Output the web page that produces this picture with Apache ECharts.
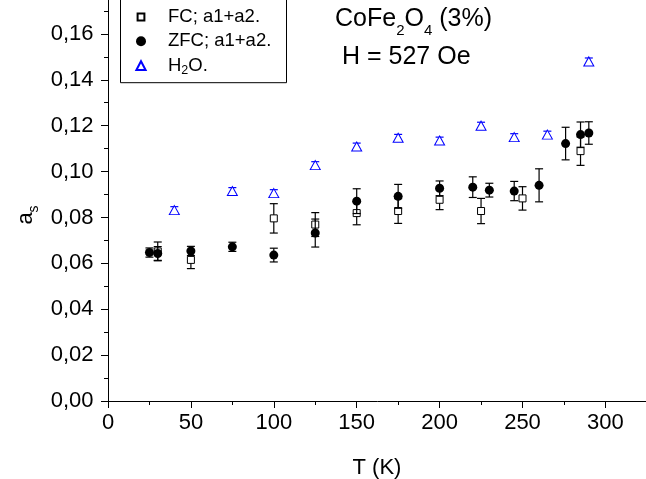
<!DOCTYPE html>
<html><head><meta charset="utf-8">
<script src="https://cdn.jsdelivr.net/npm/echarts@6/dist/echarts.min.js"></script>
<style>html,body{margin:0;padding:0;background:#fff}#c{width:646px;height:479px}</style>
</head><body><div id="c"></div>
<script>
// ---- data ----
const fcT   = [30, 50, 100, 125, 150, 175, 200, 225, 250, 285];
const fcA   = [0.0652, 0.0615, 0.0796, 0.0769, 0.0819, 0.0828, 0.0877, 0.0828, 0.0883, 0.1089];
const fcErr = [0.0041, 0.0038, 0.0064, 0.0052, 0.0051, 0.0054, 0.0043, 0.0055, 0.0051, 0.0062];

const zfcT   = [25, 30, 50, 75, 100, 125, 150, 175, 200, 220, 230, 245, 260, 276, 285, 290];
const zfcA   = [0.0647, 0.0643, 0.0654, 0.0672, 0.0636, 0.0732, 0.0871, 0.0892, 0.0927, 0.0932, 0.0919, 0.0915, 0.0940, 0.1122, 0.1161, 0.1168];
const zfcErr = [0.0020, 0.0030, 0.0020, 0.0020, 0.0030, 0.0061, 0.0054, 0.0052, 0.0032, 0.0045, 0.0030, 0.0042, 0.0072, 0.0071, 0.0055, 0.0049];

const h2oT   = [40, 75, 100, 125, 150, 175, 200, 225, 245, 265, 290];
const h2oA   = [0.0832, 0.0915, 0.0906, 0.1028, 0.1109, 0.1147, 0.1135, 0.1200, 0.1150, 0.1161, 0.1480];
const h2oErr = [0.0015, 0.0015, 0.0015, 0.0015, 0.0015, 0.0015, 0.0015, 0.0015, 0.0015, 0.0015, 0.0015];

const seriesNames = ['FC; a1+a2.', 'ZFC; a1+a2.', 'H2O.'];
const xTicks = [0, 50, 100, 150, 200, 250, 300];
const yTicks = [0, 0.02, 0.04, 0.06, 0.08, 0.10, 0.12, 0.14, 0.16];

// ---- rendering ----
const FONT = '"Liberation Sans", Arial, sans-serif';
const chart = echarts.init(document.getElementById('c'), null, {renderer: 'canvas'});

function zip(t, a, e) { return t.map((v, i) => [v, a[i], e[i]]); }
function errBar(color, cap) {
  return function (params, api) {
    const x = api.value(0), y = api.value(1), e = api.value(2);
    const lo = api.coord([x, y - e]), hi = api.coord([x, y + e]);
    const st = {stroke: color, lineWidth: 1.2};
    return {type: 'group', children: [
      {type: 'line', shape: {x1: lo[0], y1: lo[1], x2: hi[0], y2: hi[1]}, style: st},
      {type: 'line', shape: {x1: lo[0] - cap / 2, y1: lo[1], x2: lo[0] + cap / 2, y2: lo[1]}, style: st},
      {type: 'line', shape: {x1: hi[0] - cap / 2, y1: hi[1], x2: hi[0] + cap / 2, y2: hi[1]}, style: st}
    ]};
  };
}

const axisCommon = {
  type: 'value',
  axisLine: {show: true, lineStyle: {color: '#000', width: 1}},
  axisTick: {show: true, inside: false, length: 7, lineStyle: {color: '#000', width: 1}},
  minorTick: {show: true, splitNumber: 2, length: 4, lineStyle: {color: '#000', width: 1}},
  splitLine: {show: false},
  minorSplitLine: {show: false}
};

const option = {
  animation: false,
  backgroundColor: '#fff',
  grid: {left: 108, bottom: 78, width: 580.3, height: 413, containLabel: false, outerBoundsMode: 'none'},
  xAxis: Object.assign({}, axisCommon, {
    min: 0, max: 350, interval: 50,
    axisLabel: {color: '#000', fontSize: 22, fontFamily: FONT, margin: 11,
      formatter: v => xTicks.includes(v) ? String(v) : ''}
  }),
  yAxis: Object.assign({}, axisCommon, {
    min: 0, max: 0.18, interval: 0.02,
    axisLabel: {color: '#000', fontSize: 22, fontFamily: FONT, margin: 14.5,
      formatter: v => yTicks.some(t => Math.abs(t - v) < 1e-9) ? v.toFixed(2).replace('.', ',') : ''}
  }),
  legend: {
    orient: 'vertical', left: 135, top: 7.5, padding: 0,
    itemWidth: 44, itemHeight: 10, itemGap: 5.3, selectedMode: false,
    symbolKeepAspect: true,
    textStyle: {fontFamily: FONT, fontSize: 18.5, color: '#000',
      rich: {
        m: {fontFamily: FONT, fontSize: 18.5, color: '#000', lineHeight: 22},
        s: {fontFamily: FONT, fontSize: 12.5, color: '#000', lineHeight: 8, verticalAlign: 'bottom'}
      }},
    formatter: n => n === 'H2O.' ? '{m|H}{s|2}{m|O.}' : '{m|' + n + '}',
    data: [
      {name: seriesNames[0], icon: 'path://M0,0M1.6,1.6L8.4,1.6L8.4,8.4L1.6,8.4ZM10,10'},
      {name: seriesNames[1], icon: 'circle'},
      {name: seriesNames[2], icon: 'path://M0,0M5,0.6L9.6,9.4L0.4,9.4ZM10,10'}
    ]
  },
  graphic: [
    {type: 'rect', shape: {x: 120.5, y: -10, width: 166, height: 92.7},
      style: {fill: 'none', stroke: '#000', lineWidth: 1}, z: 10},
    {type: 'text', x: 335, y: 0.6, z: 10, style: {
      text: '{m|CoFe}{s|2}{m|O}{s|4}{m| (3%)}', align: 'left', verticalAlign: 'top',
      rich: {
        m: {fontFamily: FONT, fontSize: 25, fill: '#000', lineHeight: 38},
        s: {fontFamily: FONT, fontSize: 15, fill: '#000', lineHeight: 14, verticalAlign: 'bottom'}
      }}},
    {type: 'text', x: 342, y: 38, z: 10, style: {
      text: '{m|H = 527 Oe}', align: 'left', verticalAlign: 'top',
      rich: {m: {fontFamily: FONT, fontSize: 25, fill: '#000', lineHeight: 38}}}},
    {type: 'text', x: 377, y: 467.5, z: 10, style: {
      text: 'T (K)', fontFamily: FONT, fontSize: 22, fill: '#000', align: 'center', verticalAlign: 'middle'}},
    {type: 'text', x: 26, y: 215, rotation: Math.PI / 2, z: 10, style: {
      text: '{m|a}{s|s}', align: 'center', verticalAlign: 'middle',
      rich: {
        m: {fontFamily: FONT, fontSize: 22, fill: '#000', lineHeight: 30},
        s: {fontFamily: FONT, fontSize: 14, fill: '#000', lineHeight: 12, verticalAlign: 'bottom'}
      }}}
  ],
  series: [
    {type: 'custom', name: 'fcErr', z: 1, renderItem: errBar('#000', 8),
      encode: {x: 0, y: 1}, data: zip(fcT, fcA, fcErr), silent: true},
    {type: 'scatter', name: seriesNames[0], z: 2, symbol: 'rect', symbolSize: 7,
      itemStyle: {color: '#fff', borderColor: '#000', borderWidth: 1, opacity: 1},
      data: fcT.map((t, i) => [t, fcA[i]])},
    {type: 'custom', name: 'zfcErr', z: 3, renderItem: errBar('#000', 8),
      encode: {x: 0, y: 1}, data: zip(zfcT, zfcA, zfcErr), silent: true},
    {type: 'scatter', name: seriesNames[1], z: 4, symbol: 'circle', symbolSize: 9,
      itemStyle: {color: '#000', borderColor: '#000', borderWidth: 0, opacity: 1},
      data: zfcT.map((t, i) => [t, zfcA[i]])},
    {type: 'custom', name: 'h2oErr', z: 5, renderItem: errBar('#0000ff', 8),
      encode: {x: 0, y: 1}, data: zip(h2oT, h2oA, h2oErr), silent: true},
    {type: 'scatter', name: seriesNames[2], z: 6, symbol: 'triangle', symbolSize: [10, 9],
      itemStyle: {color: '#fff', borderColor: '#0000ff', borderWidth: 1, opacity: 1},
      data: h2oT.map((t, i) => [t, h2oA[i]])}
  ]
};
chart.setOption(option);
</script>
</body></html>
